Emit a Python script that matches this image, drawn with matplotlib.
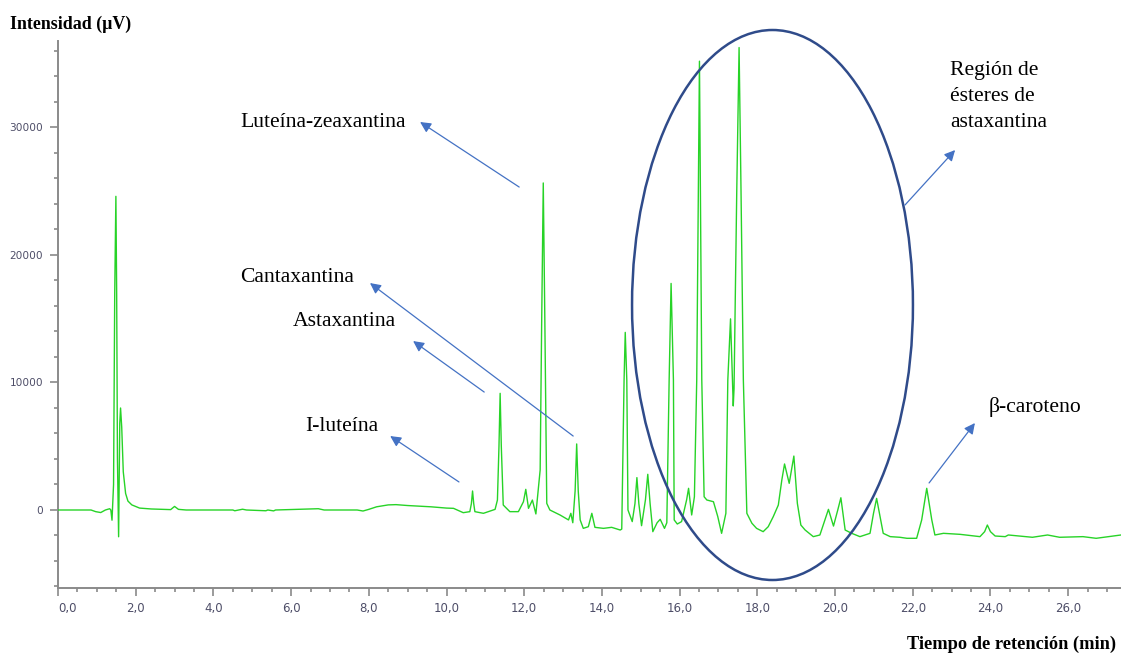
import matplotlib
matplotlib.use("Agg")
import matplotlib.pyplot as plt
from matplotlib.patches import Ellipse
from matplotlib.ticker import MultipleLocator, FuncFormatter

# ---- data (retention time in min, intensity in µV) ----
time_min = [
    0.00, 0.85, 0.97, 1.10, 1.22, 1.33, 1.36, 1.39, 1.43, 1.46, 1.49, 1.51, 1.53, 1.56,
    1.59, 1.61, 1.64, 1.68, 1.74, 1.80, 1.90, 2.10, 2.40, 2.90, 3.00, 3.10, 3.30,
    4.50, 4.55, 4.75, 4.85, 5.35, 5.40, 5.55, 5.60, 6.70, 6.85, 7.70, 7.85, 8.00,
    8.20, 8.50, 8.70, 9.00, 9.30, 9.60, 10.00, 10.18, 10.43, 10.60, 10.64,
    10.67, 10.70, 10.73, 10.95, 11.25, 11.31, 11.35, 11.38, 11.41, 11.46,
    11.63, 11.85, 11.98, 12.04, 12.11, 12.21, 12.30, 12.41, 12.45, 12.49, 12.53,
    12.58, 12.66, 12.92, 13.14, 13.20, 13.25, 13.31, 13.35, 13.39, 13.44, 13.52,
    13.65, 13.74, 13.82, 14.04, 14.25, 14.47, 14.51, 14.57, 14.60, 14.64, 14.67,
    14.78, 14.85, 14.90, 14.95, 15.02, 15.12, 15.18, 15.24, 15.31, 15.42, 15.50,
    15.61, 15.67, 15.73, 15.78, 15.84, 15.86, 15.94, 16.05, 16.18, 16.23, 16.31,
    16.38, 16.44, 16.51, 16.57, 16.63, 16.70, 16.87, 16.98, 17.08, 17.19, 17.24,
    17.31, 17.38, 17.40, 17.47, 17.53, 17.58, 17.64, 17.73, 17.86, 17.98, 18.15,
    18.28, 18.41, 18.54, 18.63, 18.70, 18.82, 18.94, 19.03, 19.12, 19.23, 19.44,
    19.61, 19.74, 19.83, 19.96, 20.07, 20.15, 20.26, 20.43, 20.64, 20.90, 20.99,
    21.07, 21.16, 21.24, 21.42, 21.67, 21.85, 22.10, 22.23, 22.36, 22.49, 22.57,
    22.79, 23.22, 23.73, 23.85, 23.92, 24.00, 24.12, 24.38, 24.46, 25.08, 25.47,
    25.78, 26.38, 26.72, 27.36,
]
intensity_uv = [
    0, 0, -130, -200, 0, 100, 0, -800, 2000, 17000, 24600, 17000, 4000, -2100,
    6800, 8000, 6500, 3000, 1300, 700, 400, 150, 80, 30, 280, 50, 0,
    0, -60, 60, 0, -60, 0, -70, 0, 100, 0, 0, -80, 50,
    250, 400, 420, 350, 300, 250, 150, 130, -210, -130, 500,
    1490, 500, -130, -260, 50, 780, 5000, 9150, 5000, 390,
    -130, -130, 650, 1620, 130, 780, -310, 3140, 15000, 25650, 15000,
    520, 0, -390, -780, -260, -1000, 1500, 5180, 1500, -780, -1440,
    -1310, -260, -1360, -1440, -1360, -1570, -1500, 10200, 13930, 10200, 0,
    -910, 500, 2540, 500, -1230, 800, 2800, 500, -1700, -1000, -730,
    -1440, -1000, 10200, 17770, 10200, -780, -1100, -910, 800, 1700, -390,
    1040, 10200, 35200, 10200, 1040, 785, 650, -500, -1830, -260, 10200,
    14990, 8160, 9500, 25000, 36270, 25000, 10200, -260, -1040, -1440, -1700,
    -1310, -520, 390, 2350, 3610, 2090, 4230, 520, -1180, -1570, -2090,
    -1960, -780, 50, -1260, 0, 960, -1570, -1830, -2090, -1830, -260,
    910, -520, -1830, -2090, -2140, -2220, -2220, -780, 1700, -780, -1960,
    -1830, -1910, -2090, -1700, -1180, -1700, -2040, -2090, -1960, -2140, -1960,
    -2140, -2090, -2220, -1960,
]

x_major = [0, 2, 4, 6, 8, 10, 12, 14, 16, 18, 20, 22, 24, 26]
y_major = [0, 10000, 20000, 30000]

labels = ["Luteína-zeaxantina", "Cantaxantina", "Astaxantina", "I-luteína",
          "Región de\nésteres de\nastaxantina", "β-caroteno"]

# ---- figure ----
W, H = 1121, 655
fig = plt.figure(figsize=(W / 100, H / 100), dpi=100)
ax = fig.add_axes([58 / W, 1 - 588 / H, (W - 58) / W, (588 - 41) / H])

ax.plot(time_min, intensity_uv, color="#27d327", lw=1.0, zorder=3)

ax.set_xlim(0, 27.36)
ax.set_ylim(-6118, 36784)

for s in ["top", "right"]:
    ax.spines[s].set_visible(False)
for s in ["left", "bottom"]:
    ax.spines[s].set_color("#8a8a8a")
    ax.spines[s].set_linewidth(1.4)

ax.set_xticks(x_major)
ax.xaxis.set_minor_locator(MultipleLocator(0.5))
ax.set_yticks(y_major)
ax.yaxis.set_minor_locator(MultipleLocator(2000))
ax.xaxis.set_major_formatter(FuncFormatter(lambda v, p: f"{v:.1f}".replace(".", ",")))
ax.yaxis.set_major_formatter(FuncFormatter(lambda v, p: f"{int(v)}"))

tick_col = "#4e4e68"
ax.tick_params(axis="both", which="major", length=5.8, width=1.2, color="#8a8a8a",
               labelcolor=tick_col)
ax.tick_params(axis="both", which="minor", length=3.2, width=1.2, color="#8a8a8a")
ax.tick_params(axis="x", which="major", labelsize=8.5, pad=4.3)
ax.tick_params(axis="y", which="major", labelsize=7.6, pad=5)
fig.canvas.draw()
ax.get_xticklabels()[0].set_horizontalalignment("left")

serif = "Liberation Serif"
fig.text(10 / W, 1 - 24 / H, "Intensidad (µV)", fontfamily=serif, fontweight="bold",
         fontsize=12.9, ha="left", va="center")
fig.text(1116 / W, 1 - 644 / H, "Tiempo de retención (min)", fontfamily=serif,
         fontweight="bold", fontsize=13.2, ha="right", va="center")

# ---- ellipse around astaxanthin esters ----
ell = Ellipse((18.39, 16078), width=7.23, height=43137, fill=False,
              edgecolor="#2f4b8a", lw=1.8, clip_on=False, zorder=4)
ax.add_patch(ell)

# ---- annotations (text anchor, arrow tail, arrow head) ----
text_pos = [(4.68, 30430), (4.68, 18200), (6.05, 14820), (6.36, 6510),
            (22.96, 32470), (23.94, 8080)]
arrow_tail = [(11.87, 25330), (13.26, 5800), (10.97, 9250), (10.32, 2200),
              (21.80, 23920), (22.42, 2120)]
arrow_head = [(9.32, 30430), (8.03, 17800), (9.14, 13250), (8.55, 5800),
              (23.09, 28230), (23.60, 6820)]

for lab, tp, tail, head in zip(labels, text_pos, arrow_tail, arrow_head):
    ax.text(tp[0], tp[1], lab, fontfamily=serif, fontsize=15.6, ha="left",
            va="center", linespacing=1.5, zorder=5)
    ax.annotate("", xy=head, xytext=tail,
                arrowprops=dict(arrowstyle="-|>", color="#4472c4", lw=0.9,
                                mutation_scale=16, shrinkA=0, shrinkB=0),
                annotation_clip=False, zorder=5)

fig.savefig("out.png", dpi=100)
